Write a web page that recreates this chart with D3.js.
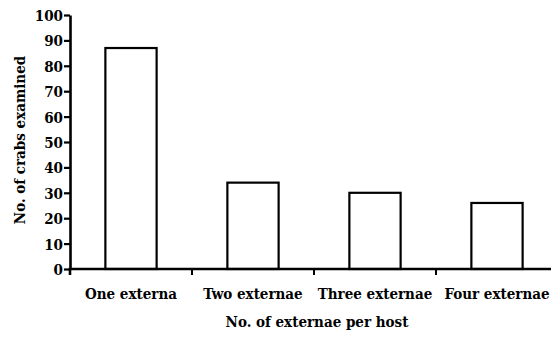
<!DOCTYPE html>
<html>
<head>
<meta charset="utf-8">
<script src="https://cdn.jsdelivr.net/npm/d3@7"></script>
</head>
<body style="margin:0;padding:0;background:#fff">
<svg id="chart" width="551" height="339" style="display:block"></svg>
<script>
// Number of crabs examined by number of externae carried per host
const categories = ["One externa", "Two externae", "Three externae", "Four externae"];
const counts = [87, 34, 30, 26];
const yTicks = [0, 10, 20, 30, 40, 50, 60, 70, 80, 90, 100];

const FONT = "'DejaVu Serif Condensed', 'DejaVu Serif', serif";

const svg = d3.select("#chart");
const plot = { left: 70, right: 558, top: 15, bottom: 269 };

const x = d3.scaleBand()
  .domain(categories)
  .range([plot.left, plot.right])
  .paddingInner(0.58)
  .paddingOuter(0.29);

const y = d3.scaleLinear()
  .domain([0, 100])
  .range([plot.bottom, plot.top]);

// Bars: open rectangles with black outline
svg.append("g")
  .selectAll("rect")
  .data(counts)
  .join("rect")
  .attr("x", (d, i) => x(categories[i]))
  .attr("y", d => y(d))
  .attr("width", x.bandwidth())
  .attr("height", d => y(0) - y(d))
  .attr("fill", "#fff")
  .attr("stroke", "#000")
  .attr("stroke-width", 2.2);

// Y axis
const yAxis = svg.append("g")
  .attr("transform", `translate(${plot.left},0)`)
  .call(d3.axisLeft(y).tickValues(yTicks).tickSize(6).tickSizeOuter(0).tickPadding(1));
yAxis.attr("font-family", FONT).attr("font-size", 15).attr("font-weight", "bold");
yAxis.select(".domain").attr("stroke-width", 2.6);
yAxis.selectAll(".tick line").attr("stroke-width", 2.2);
yAxis.selectAll(".tick text").attr("dy", "0.36em");

// X axis: ticks sit on the boundaries between categories
const step = x.step();
const boundaries = categories.map((c, i) => plot.left + step * i);
const xAxisG = svg.append("g").attr("transform", `translate(0,${plot.bottom})`);
xAxisG.append("line")
  .attr("x1", plot.left - 1.3).attr("x2", 551)
  .attr("stroke", "#000").attr("stroke-width", 2.6);
xAxisG.selectAll("line.tick")
  .data(boundaries)
  .join("line")
  .attr("class", "tick")
  .attr("x1", d => d).attr("x2", d => d)
  .attr("y1", 0).attr("y2", 6)
  .attr("stroke", "#000")
  .attr("stroke-width", (d, i) => i === 0 ? 2.6 : 2);
xAxisG.selectAll("text.cat")
  .data(categories)
  .join("text")
  .attr("class", "cat")
  .attr("x", d => x(d) + x.bandwidth() / 2)
  .attr("y", 30)
  .attr("text-anchor", "middle")
  .attr("font-family", FONT).attr("font-size", 15).attr("font-weight", "bold")
  .text(d => d);

// Axis titles
svg.append("text")
  .attr("x", 317)
  .attr("y", 327)
  .attr("text-anchor", "middle")
  .attr("font-family", FONT).attr("font-size", 15).attr("font-weight", "bold")
  .text("No. of externae per host");

svg.append("text")
  .attr("transform", "translate(25,140) rotate(-90)")
  .attr("text-anchor", "middle")
  .attr("font-family", FONT).attr("font-size", 15).attr("font-weight", "bold")
  .text("No. of crabs examined");
</script>
</body>
</html>
